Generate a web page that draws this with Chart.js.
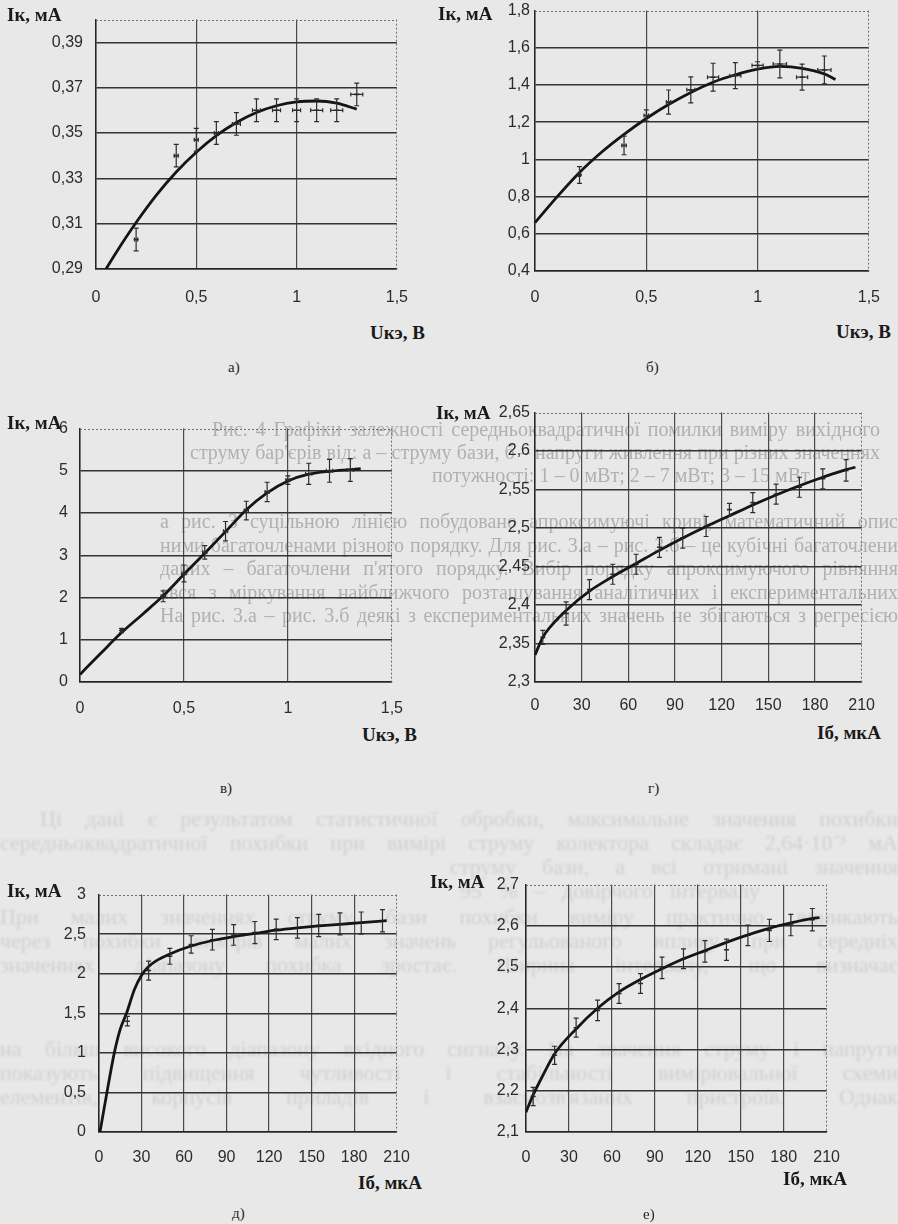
<!DOCTYPE html>
<html lang="uk">
<head>
<meta charset="utf-8">
<script src="https://cdn.jsdelivr.net/npm/chart.js@4.4.1/dist/chart.umd.min.js"></script>
<style>
  body { margin: 0; width: 898px; height: 1224px; background: #e8e8e8; position: relative; overflow: hidden; font-family: "Liberation Serif", "Times New Roman", serif; }
  .panel { position: absolute; }
  .panel canvas { display: block; }
  .ttl { position: absolute; font-weight: bold; font-size: 19px; color: #1a1a1a; white-space: nowrap; line-height: 1; }
  .cap { position: absolute; font-size: 15px; color: #262626; line-height: 1; white-space: nowrap; }
  .bg { position: absolute; color: #b0b0b0; font-size: 20px; line-height: 1; white-space: nowrap; text-align: justify; text-align-last: justify; filter: blur(0.5px); }
  .bg.pale { color: #d0d0d0; font-size: 22px; filter: blur(1px); }
</style>
</head>
<body>
<div id="bgText"></div>
<div class="panel" id="pa"></div>
<div class="panel" id="pb"></div>
<div class="panel" id="pv"></div>
<div class="panel" id="pg"></div>
<div class="panel" id="pd"></div>
<div class="panel" id="pe"></div>

<div class="ttl" style="left:7px;top:5px">Iк, мА</div>
<div class="ttl" style="left:370px;top:323px">Uкэ, В</div>
<div class="cap" style="left:228px;top:360px">а)</div>

<div class="ttl" style="left:438px;top:4px">Iк, мА</div>
<div class="ttl" style="left:836px;top:322px">Uкэ, В</div>
<div class="cap" style="left:646px;top:360px">б)</div>

<div class="ttl" style="left:7px;top:413px">Iк, мА</div>
<div class="ttl" style="left:362px;top:725px">Uкэ, В</div>
<div class="cap" style="left:220px;top:781px">в)</div>

<div class="ttl" style="left:436px;top:403px">Iк, мА</div>
<div class="ttl" style="left:817px;top:723px">Iб, мкА</div>
<div class="cap" style="left:648px;top:781px">г)</div>

<div class="ttl" style="left:7px;top:881px">Iк, мА</div>
<div class="ttl" style="left:358px;top:1173px">Iб, мкА</div>
<div class="cap" style="left:232px;top:1206px">д)</div>

<div class="ttl" style="left:430px;top:872px">Iк, мА</div>
<div class="ttl" style="left:783px;top:1169px">Iб, мкА</div>
<div class="cap" style="left:643px;top:1207px">е)</div>

<script>
// --- а) Iк(Uкэ) ---
const uTicks = [0, 0.5, 1, 1.5];
const aYTicks = [0.29, 0.31, 0.33, 0.35, 0.37, 0.39];
const aX = [0.2, 0.4, 0.5, 0.6, 0.7, 0.8, 0.9, 1.0, 1.1, 1.2, 1.3];
const aY = [0.303, 0.340, 0.347, 0.350, 0.354, 0.360, 0.360, 0.360, 0.360, 0.360, 0.367];
const aErr = [0.005, 0.005, 0.005, 0.005, 0.005, 0.005, 0.005, 0.005, 0.005, 0.005, 0.005];
const aXErr = [0.008, 0.01, 0.01, 0.01, 0.02, 0.02, 0.02, 0.02, 0.03, 0.03, 0.03];
const aFitX = [0.05, 0.1, 0.2, 0.3, 0.4, 0.5, 0.6, 0.7, 0.8, 0.9, 1.0, 1.1, 1.2, 1.3];
const aFitY = [0.290, 0.2972, 0.3105, 0.3225, 0.3328, 0.3415, 0.3488, 0.3546, 0.359, 0.362, 0.3637, 0.3641, 0.3632, 0.3605];

// --- б) ---
const bYTicks = [0.4, 0.6, 0.8, 1, 1.2, 1.4, 1.6, 1.8];
const bX = [0.2, 0.4, 0.5, 0.6, 0.7, 0.8, 0.9, 1.0, 1.1, 1.2, 1.3];
const bY = [0.916, 1.075, 1.236, 1.308, 1.374, 1.442, 1.45, 1.505, 1.513, 1.442, 1.481];
const bErr = [0.045, 0.05, 0.03, 0.065, 0.07, 0.075, 0.07, 0.02, 0.075, 0.07, 0.075];
const bXErr = [0.005, 0.01, 0.01, 0.01, 0.018, 0.025, 0.025, 0.025, 0.03, 0.025, 0.03];
const bFitX = [0, 0.1, 0.2, 0.3, 0.4, 0.5, 0.6, 0.7, 0.8, 0.9, 1.0, 1.1, 1.2, 1.3, 1.35];
const bFitY = [0.66, 0.80, 0.93, 1.04, 1.135, 1.22, 1.295, 1.36, 1.415, 1.455, 1.485, 1.50, 1.49, 1.46, 1.43];

// --- в) ---
const vYTicks = [0, 1, 2, 3, 4, 5, 6];
const vX = [0.2, 0.4, 0.5, 0.6, 0.7, 0.8, 0.9, 1.0, 1.1, 1.2, 1.3];
const vY = [1.22, 2.03, 2.57, 3.07, 3.57, 4.06, 4.50, 4.78, 4.93, 5.0, 5.02];
const vErr = [0.05, 0.13, 0.2, 0.16, 0.23, 0.22, 0.23, 0.1, 0.25, 0.27, 0.27];
const vXErr = [0.005, 0.01, 0.01, 0.01, 0.01, 0.01, 0.01, 0.01, 0.015, 0.015, 0.015];
const vFitX = [0, 0.1, 0.2, 0.3, 0.4, 0.5, 0.6, 0.7, 0.8, 0.9, 1.0, 1.1, 1.2, 1.3, 1.35];
const vFitY = [0.18, 0.68, 1.17, 1.6, 2.04, 2.55, 3.05, 3.56, 4.08, 4.48, 4.76, 4.92, 4.99, 5.03, 5.05];

// --- г) Iк(Iб) ---
const iTicks = [0, 30, 60, 90, 120, 150, 180, 210];
const gYTicks = [2.3, 2.35, 2.4, 2.45, 2.5, 2.55, 2.6, 2.65];
const gX = [5, 20, 35, 50, 65, 80, 95, 110, 125, 140, 155, 170, 185, 200];
const gY = [2.358, 2.389, 2.42, 2.44, 2.453, 2.475, 2.487, 2.502, 2.524, 2.533, 2.544, 2.553, 2.564, 2.575];
const gErr = [0.009, 0.015, 0.013, 0.013, 0.013, 0.013, 0.013, 0.013, 0.008, 0.013, 0.013, 0.013, 0.013, 0.014];
const gFitX = [0, 5, 10, 20, 35, 50, 65, 80, 95, 110, 125, 140, 155, 170, 185, 200, 206];
const gFitY = [2.335, 2.358, 2.372, 2.393, 2.418, 2.437, 2.454, 2.471, 2.487, 2.502, 2.516, 2.53, 2.543, 2.555, 2.566, 2.576, 2.579];

// --- д) ---
const dYTicks = [0, 0.5, 1, 1.5, 2, 2.5, 3];
const dX = [20, 35, 50, 65, 80, 95, 110, 125, 140, 155, 170, 185, 200];
const dY = [1.40, 2.04, 2.22, 2.37, 2.43, 2.49, 2.52, 2.56, 2.58, 2.61, 2.63, 2.64, 2.67];
const dErr = [0.06, 0.12, 0.1, 0.11, 0.13, 0.13, 0.14, 0.13, 0.13, 0.14, 0.14, 0.14, 0.14];
const dFitX = [0.7, 5.6, 10.8, 15, 19.4, 25, 30, 35, 40, 50, 65, 80, 95, 110, 125, 140, 155, 170, 185, 203];
const dFitY = [0, 0.5, 1.0, 1.3, 1.5, 1.8, 1.98, 2.09, 2.16, 2.25, 2.35, 2.42, 2.47, 2.51, 2.55, 2.58, 2.605, 2.625, 2.645, 2.67];

// --- е) ---
const eYTicks = [2.1, 2.2, 2.3, 2.4, 2.5, 2.6, 2.7];
const eX = [5, 20, 35, 50, 65, 80, 95, 110, 125, 140, 155, 170, 185, 200];
const eY = [2.186, 2.286, 2.353, 2.395, 2.436, 2.46, 2.498, 2.52, 2.538, 2.542, 2.577, 2.589, 2.602, 2.615];
const eErr = [0.022, 0.022, 0.023, 0.025, 0.024, 0.024, 0.026, 0.024, 0.026, 0.026, 0.025, 0.027, 0.026, 0.027];
const eFitX = [0, 5, 10, 20, 35, 50, 65, 80, 95, 110, 125, 140, 155, 170, 185, 200, 205];
const eFitY = [2.148, 2.19, 2.225, 2.29, 2.35, 2.4, 2.44, 2.47, 2.496, 2.52, 2.54, 2.56, 2.578, 2.594, 2.607, 2.618, 2.62];

// faint page text showing through the scan
const bgLines = [
  [212, 419, 668, "Рис. 4 Графіки залежності середньоквадратичної помилки виміру вихідного", ""],
  [190, 442, 690, "струму бар'єрів від: а – струму бази, б – напруги живлення при різних значеннях", ""],
  [432, 465, 290, "потужності: 1 – 0 мВт; 2 – 7 мВт; 3 – 15 мВт", ""],
  [160, 511, 738, "а рис. 3 суцільною лінією побудовано апроксимуючі криві, математичний опис", ""],
  [160, 535, 738, "ними багаточленами різного порядку. Для рис. 3.а – рис. 3.б – це кубічні багаточлени", ""],
  [160, 558, 738, "даних – багаточлени п'ятого порядку. Вибір порядку апроксимуючого рівняння", ""],
  [160, 582, 738, "ався з міркування найближчого розташування аналітичних і експериментальних", ""],
  [160, 605, 738, "На рис. 3.а – рис. 3.б деякі з експериментальних значень не збігаються з регресією", ""],
  [40, 808, 858, "Ці дані є результатом статистичної обробки, максимальне значення похибки", "pale"],
  [0, 832, 898, "середньоквадратичної похибки при вимірі струму колектора складає 2,64·10⁻³ мА", "pale"],
  [450, 856, 448, "струму бази, а всі отримані значення", "pale"],
  [460, 880, 300, "95 % – довірчого інтервалу", "pale"],
  [0, 906, 898, "При малих значеннях струму бази похибки виміру практично виникають", "pale"],
  [0, 930, 898, "через похибки вимірів малих значень регульованого впливу при середніх", "pale"],
  [0, 954, 898, "значеннях діапазону похибка зростає. Ширина інтервалу, що визначає", "pale"],
  [0, 1038, 898, "на більш високого діапазону вхідного сигналу. На значення струму і напруги", "pale"],
  [0, 1062, 898, "показують підвищення чутливості і стабільності вимірювальної схеми", "pale"],
  [0, 1086, 898, "елементів, корпусів приладів і взаємозв'язаних пристроїв. Однак", "pale"]
];

const YW = 56, PT = 14, PR = 18, XH = 40;

const fmt = (v) => String(v).replace(".", ",");

// vertical (and optional horizontal) error bars through the chart's scales
function errorBars(pts) {
  return {
    id: "errorBars",
    afterDatasetsDraw(chart) {
      const { ctx, scales: { x, y } } = chart;
      ctx.save();
      ctx.strokeStyle = "#2c2c2c";
      ctx.lineWidth = 1.2;
      ctx.beginPath();
      pts.x.forEach((xv, i) => {
        const px = x.getPixelForValue(xv);
        const py = y.getPixelForValue(pts.y[i]);
        const top = y.getPixelForValue(pts.y[i] + pts.err[i]);
        const bot = y.getPixelForValue(pts.y[i] - pts.err[i]);
        ctx.moveTo(px, top); ctx.lineTo(px, bot);
        ctx.moveTo(px - 2.5, top); ctx.lineTo(px + 2.5, top);
        ctx.moveTo(px - 2.5, bot); ctx.lineTo(px + 2.5, bot);
        if (pts.xerr) {
          const l = x.getPixelForValue(xv - pts.xerr[i]);
          const r = x.getPixelForValue(xv + pts.xerr[i]);
          ctx.moveTo(l, py); ctx.lineTo(r, py);
          ctx.moveTo(l, py - 2); ctx.lineTo(l, py + 2);
          ctx.moveTo(r, py - 2); ctx.lineTo(r, py + 2);
        }
      });
      ctx.stroke();
      ctx.restore();
    },
  };
}

// dotted top / right edge of the plot frame
const dottedFrame = {
  id: "dottedFrame",
  beforeDatasetsDraw(chart) {
    const { ctx, chartArea: a } = chart;
    ctx.save();
    ctx.strokeStyle = "#6e6e6e";
    ctx.lineWidth = 1;
    ctx.setLineDash([2, 2]);
    ctx.beginPath();
    ctx.moveTo(a.left, Math.round(a.top) + 0.5);
    ctx.lineTo(a.right, Math.round(a.top) + 0.5);
    ctx.moveTo(Math.round(a.right) - 0.5, a.top);
    ctx.lineTo(Math.round(a.right) - 0.5, a.bottom);
    ctx.stroke();
    ctx.restore();
  },
};

function axis(ticks, min, max, pad, horizontal) {
  return {
    type: "linear",
    min: min,
    max: max,
    afterBuildTicks: (s) => { s.ticks = ticks.map((v) => ({ value: v })); },
    afterFit: (s) => { if (horizontal) s.height = XH; else s.width = YW; },
    grid: {
      drawTicks: false,
      lineWidth: horizontal ? 1.2 : 1.4,
      color: (c) => (c.tick && c.tick.value >= max ? "rgba(0,0,0,0)" : horizontal ? "#4a4a4a" : "#333333"),
    },
    border: { color: "#262626", width: 1.5 },
    ticks: {
      padding: pad,
      color: "#2b2b2b",
      autoSkip: false,
      maxRotation: 0,
      font: { family: "Liberation Sans", size: 16 },
      callback: (v) => fmt(v),
    },
  };
}

function panel(id, box, xAxis, yAxis, pts, fitX, fitY) {
  const wrap = document.getElementById(id);
  wrap.style.left = box.left - YW + "px";
  wrap.style.top = box.top - PT + "px";
  const cv = document.createElement("canvas");
  cv.width = YW + box.w + PR;
  cv.height = PT + box.h + XH;
  wrap.appendChild(cv);

  new Chart(cv.getContext("2d"), {
    type: "scatter",
    data: {
      datasets: [
        {
          data: fitX.map((x, i) => ({ x: x, y: fitY[i] })),
          showLine: true,
          borderColor: "#151515",
          borderWidth: 2.8,
          pointRadius: 0,
          cubicInterpolationMode: "monotone",
          fill: false,
        },
        {
          data: pts.x.map((x, i) => ({ x: x, y: pts.y[i] })),
          pointStyle: "line",
          pointRadius: 2.5,
          borderWidth: 1.6,
          borderColor: "#2c2c2c",
          backgroundColor: "#2c2c2c",
        },
      ],
    },
    options: {
      responsive: false,
      animation: false,
      devicePixelRatio: 1,
      layout: { padding: { top: PT, right: PR, left: 0, bottom: 0 } },
      plugins: { legend: { display: false }, tooltip: { enabled: false } },
      scales: { x: xAxis, y: yAxis },
    },
    plugins: [dottedFrame, errorBars(pts)],
  });
}

const bg = document.getElementById("bgText");
bgLines.forEach(([left, top, width, text, tone]) => {
  const d = document.createElement("div");
  d.className = "bg " + tone;
  d.style.left = left + "px";
  d.style.top = top + "px";
  d.style.width = width + "px";
  d.textContent = text;
  bg.appendChild(d);
});

panel("pa", { left: 96, top: 11, w: 313, h: 258 },
  axis(uTicks, 0, 1.5, 19, true), axis(aYTicks, 0.29, 0.40, 13, false),
  { x: aX, y: aY, err: aErr, xerr: aXErr }, aFitX, aFitY);

panel("pb", { left: 535, top: 10, w: 344, h: 261 },
  axis(uTicks, 0, 1.5, 17, true), axis(bYTicks, 0.4, 1.8, 5, false),
  { x: bX, y: bY, err: bErr, xerr: bXErr }, bFitX, bFitY);

panel("pv", { left: 80, top: 421, w: 322, h: 261 },
  axis(uTicks, 0, 1.5, 17, true), axis(vYTicks, 0, 6, 12, false),
  { x: vX, y: vY, err: vErr, xerr: vXErr }, vFitX, vFitY);

panel("pg", { left: 535, top: 412, w: 336, h: 270 },
  axis(iTicks, 0, 210, 14, true), axis(gYTicks, 2.3, 2.65, 5, false),
  { x: gX, y: gY, err: gErr }, gFitX, gFitY);

panel("pd", { left: 99, top: 886, w: 309, h: 246 },
  axis(iTicks, 0, 210, 16, true), axis(dYTicks, 0, 3, 13, false),
  { x: dX, y: dY, err: dErr }, dFitX, dFitY);

panel("pe", { left: 526, top: 882, w: 312, h: 250 },
  axis(iTicks, 0, 210, 16, true), axis(eYTicks, 2.1, 2.7, 7, false),
  { x: eX, y: eY, err: eErr }, eFitX, eFitY);
</script>
</body>
</html>
